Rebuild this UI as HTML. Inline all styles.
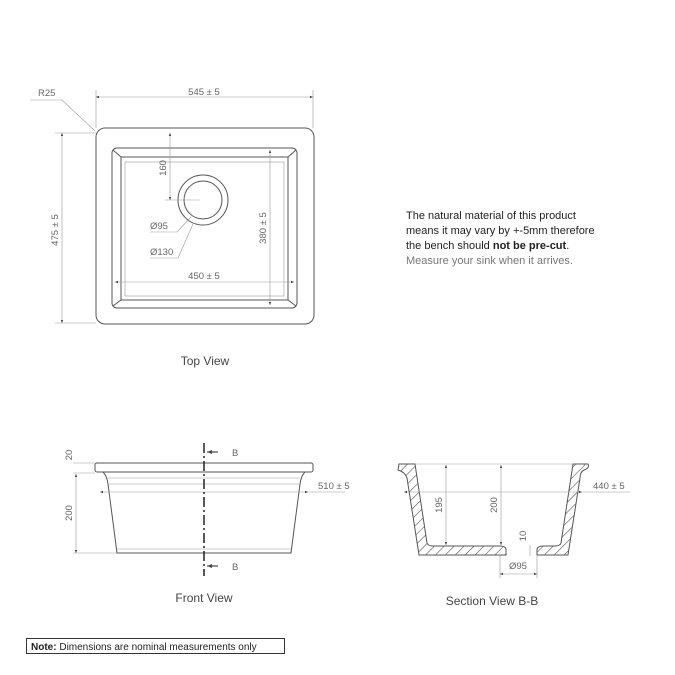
<!DOCTYPE html>
<html><head><meta charset="utf-8"><style>
html,body{margin:0;padding:0;background:#fff;}
svg{display:block;font-family:"Liberation Sans",sans-serif;}
.l{stroke:#555;stroke-width:1;fill:none}
.t{stroke:#999;stroke-width:0.6;fill:none}
.d{fill:#666;font-size:9.5px}
</style></head><body>
<svg width="675" height="675" viewBox="0 0 675 675" xmlns="http://www.w3.org/2000/svg">
<defs>
<pattern id="h" width="7" height="7" patternUnits="userSpaceOnUse" patternTransform="rotate(45)">
<rect width="7" height="7" fill="#fff"/><line x1="0" y1="0" x2="0" y2="7" stroke="#555" stroke-width="1.2"/>
</pattern>
<marker id="a" markerWidth="6" markerHeight="6" refX="5" refY="3" orient="auto-start-reverse"><path d="M0,1 L5,3 L0,5Z" fill="#444"/></marker>
</defs>
<!-- Top view -->
<rect x="96" y="128" width="218" height="196" rx="9" class="l" stroke-width="1.3"/>
<rect x="112" y="148" width="185" height="160" rx="5" class="l"/>
<rect x="121" y="157" width="167" height="143" class="l"/>
<rect x="125" y="162" width="159" height="134" class="t"/>
<line x1="113" y1="150" x2="121" y2="157" class="l"/><line x1="296" y1="150" x2="288" y2="157" class="l"/>
<line x1="113" y1="306" x2="121" y2="300" class="l"/><line x1="296" y1="306" x2="288" y2="300" class="l"/>
<circle cx="203" cy="200" r="25" class="l"/><circle cx="203" cy="200" r="19" class="l"/>
<line x1="165" y1="200" x2="200" y2="200" class="t"/>
<line x1="96" y1="90" x2="96" y2="128" class="t"/><line x1="313" y1="90" x2="313" y2="128" class="t"/>
<line x1="96" y1="97" x2="313" y2="97" class="t" marker-start="url(#a)" marker-end="url(#a)"/>
<text x="204" y="95" class="d" text-anchor="middle">545 ± 5</text>
<line x1="55" y1="133" x2="96" y2="133" class="t"/><line x1="55" y1="323" x2="96" y2="323" class="t"/>
<line x1="62" y1="133" x2="62" y2="323" class="t" marker-start="url(#a)" marker-end="url(#a)"/>
<text transform="translate(58,230) rotate(-90)" class="d" text-anchor="middle">475 ± 5</text>
<text x="38" y="96" class="d">R25</text>
<polyline points="30,100 62,100 95,131" class="t"/>
<line x1="170" y1="133" x2="170" y2="200" class="t" marker-start="url(#a)" marker-end="url(#a)"/>
<text transform="translate(166,168) rotate(-90)" class="d" text-anchor="middle">160</text>
<line x1="270" y1="150" x2="270" y2="305" class="t" marker-start="url(#a)" marker-end="url(#a)"/>
<text transform="translate(266,228) rotate(-90)" class="d" text-anchor="middle">380 ± 5</text>
<line x1="115" y1="282" x2="294" y2="282" class="t" marker-start="url(#a)" marker-end="url(#a)"/>
<text x="204" y="279" class="d" text-anchor="middle">450 ± 5</text>
<text x="150" y="229" class="d">Ø95</text><polyline points="150,232 177,232 191,217" class="t"/>
<text x="150" y="255" class="d">Ø130</text><polyline points="150,258 178,258 193,224" class="t"/>
<text x="205" y="365" font-size="12" fill="#444" text-anchor="middle">Top View</text>
<!-- Text block -->
<text x="406" y="219" font-size="11" fill="#222">The natural material of this product</text>
<text x="406" y="234" font-size="11" fill="#222">means it may vary by +-5mm therefore</text>
<text x="406" y="249" font-size="11" fill="#222">the bench should <tspan font-weight="bold">not be pre-cut</tspan>.</text>
<text x="406" y="264" font-size="11" fill="#777">Measure your sink when it arrives.</text>
<!-- Front view -->
<rect x="95" y="463" width="218" height="9" rx="2" class="l"/>
<path d="M103,472 Q107,476 108,484 L117,553 L291,553 L300,484 Q301,476 305,472" class="l"/>
<line x1="108" y1="478" x2="300" y2="478" class="t"/><line x1="108" y1="484" x2="300" y2="484" class="t"/>
<line x1="117" y1="549" x2="291" y2="549" class="t"/>
<line x1="100" y1="492" x2="308" y2="492" class="t" marker-start="url(#a)" marker-end="url(#a)"/>
<line x1="308" y1="492" x2="345" y2="492" class="t"/>
<text x="318" y="489" class="d">510 ± 5</text>
<line x1="73" y1="463" x2="95" y2="463" class="t"/><line x1="73" y1="473" x2="95" y2="473" class="t"/><line x1="73" y1="553" x2="117" y2="553" class="t"/>
<line x1="76" y1="474" x2="76" y2="553" class="t" marker-start="url(#a)" marker-end="url(#a)"/>
<text transform="translate(72,455) rotate(-90)" class="d" text-anchor="middle">20</text>
<text transform="translate(72,513) rotate(-90)" class="d" text-anchor="middle">200</text>
<line x1="204" y1="443" x2="204" y2="576" stroke="#222" stroke-width="1.5" stroke-dasharray="10,3,2,3"/>
<line x1="218" y1="452" x2="207" y2="452" stroke="#222" marker-end="url(#a)"/>
<line x1="218" y1="566" x2="207" y2="566" stroke="#222" marker-end="url(#a)"/>
<text x="232" y="456" class="d">B</text><text x="232" y="570" class="d">B</text>
<text x="204" y="602" font-size="12" fill="#444" text-anchor="middle">Front View</text>
<!-- Section view -->
<path d="M399,464 L415,464 L427,543 Q428,546 433,546 L500,546 Q505,546 506,549 L506,555 L419,555 L407,478 Q405,472 398,470 Z" fill="url(#h)" stroke="#555"/>
<path d="M573,464 L588,464 Q590,468 584,470 Q580,472 580,478 L568,555 L537,555 L537,549 Q538,546 543,546 L555,546 Q560,546 561,543 Z" fill="url(#h)" stroke="#555"/>
<line x1="415" y1="464" x2="573" y2="464" class="t"/>
<line x1="404" y1="492" x2="582" y2="492" class="t" marker-start="url(#a)" marker-end="url(#a)"/>
<line x1="582" y1="492" x2="630" y2="492" class="t"/>
<text x="593" y="489" class="d">440 ± 5</text>
<line x1="446" y1="465" x2="446" y2="545" class="t" marker-start="url(#a)" marker-end="url(#a)"/>
<text transform="translate(442,505) rotate(-90)" class="d" text-anchor="middle">195</text>
<line x1="501" y1="465" x2="501" y2="545" class="t" marker-start="url(#a)" marker-end="url(#a)"/>
<text transform="translate(497,505) rotate(-90)" class="d" text-anchor="middle">200</text>
<line x1="530" y1="545" x2="530" y2="556" class="t"/>
<text transform="translate(526,536) rotate(-90)" class="d" text-anchor="middle">10</text>
<line x1="500" y1="555" x2="500" y2="578" class="t"/><line x1="537" y1="555" x2="537" y2="578" class="t"/>
<line x1="500" y1="574" x2="537" y2="574" class="t" marker-start="url(#a)" marker-end="url(#a)"/>
<text x="509" y="569" class="d">Ø95</text>
<text x="492" y="605" font-size="12" fill="#444" text-anchor="middle">Section View B-B</text>
<!-- Note -->
<rect x="26.5" y="638.5" width="258" height="15" fill="none" stroke="#333"/>
<text x="31" y="650" font-size="10" fill="#222"><tspan font-weight="bold">Note:</tspan> Dimensions are nominal measurements only</text>
</svg>
</body></html>
